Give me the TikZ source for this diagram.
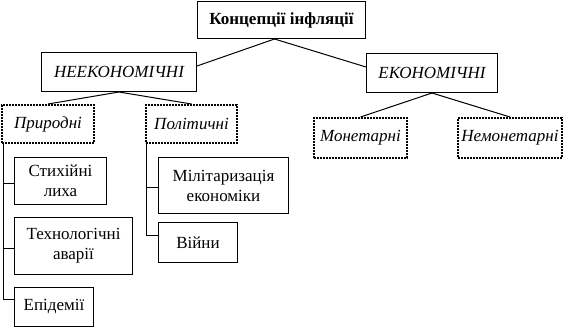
\documentclass[tikz,border=0pt]{standalone}
\usepackage{fontspec}
\setmainfont{Liberation Serif}
\usepackage{tikz}

\begin{document}
\begin{tikzpicture}[
        x=1pt, y=-1pt,
        font=\fontsize{17}{20}\selectfont,
        block/.style={
            rectangle,
            draw,
            line width=1pt,
            inner sep=0pt,
            anchor=north west,
            text centered,
            align=center
        },
        group/.style={
            block,
            line width=2pt,
            dash pattern=on 1.6pt off 1.4pt,
            font=\fontsize{17}{20}\selectfont\itshape
        },
        line/.style={draw, line width=1pt}
    ]
        \useasboundingbox (0,0) rectangle (563,327);

        % nodes
        \node [block, minimum width=168pt, minimum height=37pt, font=\fontsize{17}{20}\selectfont\bfseries] (concept) at (197,1) {Концепції інфляції};
        \node [block, minimum width=155pt, minimum height=39pt, font=\fontsize{17}{20}\selectfont\itshape] (noneco) at (41,52) {НЕЕКОНОМІЧНІ};
        \node [block, minimum width=131pt, minimum height=39pt, font=\fontsize{17}{20}\selectfont\itshape] (eco) at (366,53) {ЕКОНОМІЧНІ};

        \node [group, minimum width=92pt, minimum height=38pt] (natural) at (1,104) {Природні};
        \node [group, minimum width=91pt, minimum height=38pt] (political) at (145,104) {Політичні};
        \node [group, minimum width=93pt, minimum height=40pt] (monetary) at (313,117) {Монетарні};
        \node [group, minimum width=104pt, minimum height=40pt] (nonmonetary) at (457,117) {Немонетарні};

        \node [block, minimum width=92pt, minimum height=47pt] (disasters) at (14,157) {Стихійні\\лиха};
        \node [block, minimum width=118pt, minimum height=57pt] (accidents) at (14,217) {Технологічні\\аварії};
        \node [block, minimum width=79pt, minimum height=39pt] (epidemics) at (14,287) {Епідемії};
        \node [block, minimum width=130pt, minimum height=56pt] (militar) at (158,157) {Мілітаризація\\економіки};
        \node [block, minimum width=79pt, minimum height=40pt] (wars) at (158,222) {Війни};

        % paths
        \path [line] ([xshift=-7pt]concept.south) -- ([yshift=6pt]noneco.east);
        \path [line] ([xshift=-7pt]concept.south) -- ([yshift=6pt]eco.west);

        \path [line] (noneco.south) -- (natural.north);
        \path [line] (noneco.south) -- (political.north);
        \path [line] (eco.south) -- (monetary.north);
        \path [line] (eco.south) -- (nonmonetary.north);

        \path [line] ([xshift=2pt]natural.south west) |- ([yshift=-2pt]disasters.west);
        \path [line] ([xshift=2pt]natural.south west) |- ([yshift=-2pt]accidents.west);
        \path [line] ([xshift=2pt]natural.south west) |- ([yshift=8pt]epidemics.west);
        \path [line] ([xshift=1pt]political.south west) |- ([yshift=-2pt]militar.west);
        \path [line] ([xshift=1pt]political.south west) |- ([yshift=7pt]wars.west);

    \end{tikzpicture}
\end{document}
